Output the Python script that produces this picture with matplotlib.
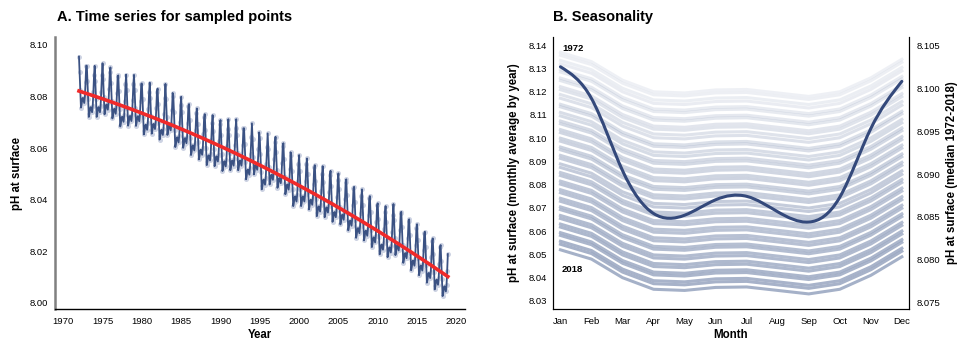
import numpy as np
import matplotlib
matplotlib.use('Agg')
import matplotlib.pyplot as plt
from matplotlib.path import Path
from matplotlib.patches import PathPatch

plt.rcParams['font.family'] = ['Liberation Sans', 'DejaVu Sans']

##########################################################################
# data
##########################################################################
years = np.arange(1972, 2019)

# yearly mean pH at the sampled points (1972 ... 2018)
annual_ph = [8.0835, 8.0799, 8.0799, 8.0809, 8.0793, 8.0762, 8.0765, 8.0764,
             8.0731, 8.0734, 8.0711, 8.0729, 8.0682, 8.0679, 8.0651, 8.0634,
             8.0612, 8.0608, 8.0589, 8.0592, 8.0592, 8.0557, 8.0576, 8.0518,
             8.0537, 8.0524, 8.0499, 8.0453, 8.0453, 8.0440, 8.0414, 8.0410,
             8.0392, 8.0382, 8.0359, 8.0330, 8.0320, 8.0294, 8.0266, 8.0255,
             8.0263, 8.0233, 8.0204, 8.0185, 8.0156, 8.0130, 8.0104]

# monthly departure from the yearly mean
month_anom = [0.0120, 0.0060, -0.0010, -0.0078, -0.0065, -0.0045,
              -0.0040, -0.0050, -0.0060, -0.0035, 0.0020, 0.0085]

month_names = ['Jan', 'Feb', 'Mar', 'Apr', 'May', 'Jun',
               'Jul', 'Aug', 'Sep', 'Oct', 'Nov', 'Dec']

# monthly average by year: January level of each year and month profile
band_jan = [8.1370, 8.1357, 8.1335, 8.1320, 8.1296, 8.1285, 8.1259, 8.1248,
            8.1222, 8.1209, 8.1188, 8.1172, 8.1146, 8.1135, 8.1111, 8.1096,
            8.1074, 8.1062, 8.1037, 8.1024, 8.1000, 8.0987, 8.0962, 8.0950,
            8.0926, 8.0913, 8.0889, 8.0874, 8.0852, 8.0839, 8.0815, 8.0802,
            8.0778, 8.0765, 8.0741, 8.0728, 8.0704, 8.0692, 8.0667, 8.0654,
            8.0630, 8.0617, 8.0593, 8.0581, 8.0556, 8.0543, 8.0519]
band_shape = [0.0, -0.0040, -0.0120, -0.0170, -0.0175, -0.0162,
              -0.0160, -0.0175, -0.0190, -0.0170, -0.0110, -0.0030]

# median 1972-2018 of each month
median_month = [8.1025, 8.0988, 8.0904, 8.0854, 8.0852, 8.0870,
                8.0874, 8.0856, 8.0844, 8.0873, 8.0953, 8.1008]


def spline_path(y):
    # natural cubic spline through equally spaced points, as bezier segments
    y = np.asarray(y, float)
    n = len(y)
    A = np.zeros((n, n)); r = np.zeros(n)
    A[0, 0] = A[-1, -1] = 1
    for i in range(1, n - 1):
        A[i, i-1:i+2] = [1, 4, 1]
        r[i] = 6 * (y[i+1] - 2*y[i] + y[i-1])
    M = np.linalg.solve(A, r)
    d = np.zeros(n)
    d[:-1] = (y[1:] - y[:-1]) - (2*M[:-1] + M[1:]) / 6
    d[-1] = (y[-1] - y[-2]) + (M[-2] + 2*M[-1]) / 6
    verts = [(0, y[0])]
    codes = [Path.MOVETO]
    for i in range(n - 1):
        verts += [(i + 1/3, y[i] + d[i]/3), (i + 2/3, y[i+1] - d[i+1]/3),
                  (i + 1, y[i+1])]
        codes += [Path.CURVE4] * 3
    return Path(verts, codes)


fig = plt.figure(figsize=(9.6, 3.42), dpi=100)

############################################################################
# A. time series
############################################################################
axA = fig.add_axes([55/960, 1-309/342, 410/960, 272/342])

t = (years[:, None] + np.arange(12)[None, :] / 12).ravel()
ph = (np.array(annual_ph)[:, None] + np.array(month_anom)[None, :]).ravel()

axA.plot(t, ph, 'o', ms=3.6, mfc='#cdd3e3', mec='none', zorder=1)
axA.plot(t, ph, color='#3b5283', lw=1.3, zorder=2)
coef = np.polyfit(t, ph, 2)
axA.plot(t, np.polyval(coef, t), color='#f02a2a', lw=2.6, zorder=3)

axA.set_xlim(1968.95, 2021.1)
axA.set_ylim(7.9976, 8.1031)
axA.set_xticks(np.arange(1970, 2021, 5))
axA.set_yticks(np.arange(8.00, 8.101, 0.02))
axA.set_yticklabels(['%.2f' % v for v in np.arange(8.00, 8.101, 0.02)])
axA.tick_params(length=0, labelsize=6.8)
axA.tick_params(axis='y', pad=5)
axA.tick_params(axis='x', pad=6)
for s in ['top', 'right']:
    axA.spines[s].set_visible(False)
axA.spines['left'].set_color('#808080'); axA.spines['left'].set_linewidth(1.8)
axA.spines['bottom'].set_linewidth(1.0)
axA.set_xlabel('Year', fontsize=8.3, fontweight='bold')
axA.set_ylabel('pH at surface', fontsize=8.3, fontweight='bold')
axA.xaxis.set_label_coords(0.5, -0.073)
axA.yaxis.set_label_coords(-0.078, 0.5)

############################################################################
# B. seasonality
############################################################################
axB = fig.add_axes([553/960, 1-309/342, 356/960, 272/342])
mx = np.arange(12)
n = len(years)
for i in range(n):
    alpha = 0.14 + 0.64 * i / (n - 1)
    axB.plot(mx, band_jan[i] + np.array(band_shape), color='#8c9bb9',
             alpha=alpha, lw=2.2, solid_joinstyle='round', zorder=1)

axB.text(0.05, 8.1385, '1972', fontsize=6.8, fontweight='bold', va='center')
axB.text(0.05, 8.0436, '2018', fontsize=6.8, fontweight='bold', va='center')

axB.set_xlim(-0.24, 11.23)
axB.set_ylim(8.0264, 8.1436)
axB.set_xticks(mx)
axB.set_xticklabels(month_names)
axB.set_yticks(np.arange(8.03, 8.141, 0.01))
axB.set_yticklabels(['%.2f' % v for v in np.arange(8.03, 8.141, 0.01)])
axB.tick_params(length=0, labelsize=6.8)
axB.tick_params(axis='y', pad=4.5)
axB.tick_params(axis='x', pad=6)
axB.spines['top'].set_visible(False)
axB.set_xlabel('Month', fontsize=8.3, fontweight='bold')
axB.set_ylabel('pH at surface (monthly average by year)', fontsize=8.3,
               fontweight='bold')
axB.xaxis.set_label_coords(0.5, -0.073)
axB.yaxis.set_label_coords(-0.094, 0.5)

axR = axB.twinx()
axR.add_patch(PathPatch(spline_path(median_month), fill=False,
                        edgecolor='#34497b', lw=2.2, capstyle='round'))
axR.set_ylim(8.07427, 8.10597)
axR.set_yticks(np.arange(8.075, 8.1051, 0.005))
axR.set_yticklabels(['%.3f' % v for v in np.arange(8.075, 8.1051, 0.005)])
axR.tick_params(length=0, labelsize=6.8, pad=5.8)
axR.spines['top'].set_visible(False)
axR.set_ylabel('pH at surface (median 1972-2018)', fontsize=8.3,
               fontweight='bold')
axR.yaxis.set_label_coords(1.105, 0.5)

fig.text(57/960, 1-17/342, 'A. Time series for sampled points',
         fontsize=10.5, fontweight='bold', va='center')
fig.text(553/960, 1-17/342, 'B. Seasonality',
         fontsize=10.5, fontweight='bold', va='center')

fig.savefig('out.png', dpi=100)
